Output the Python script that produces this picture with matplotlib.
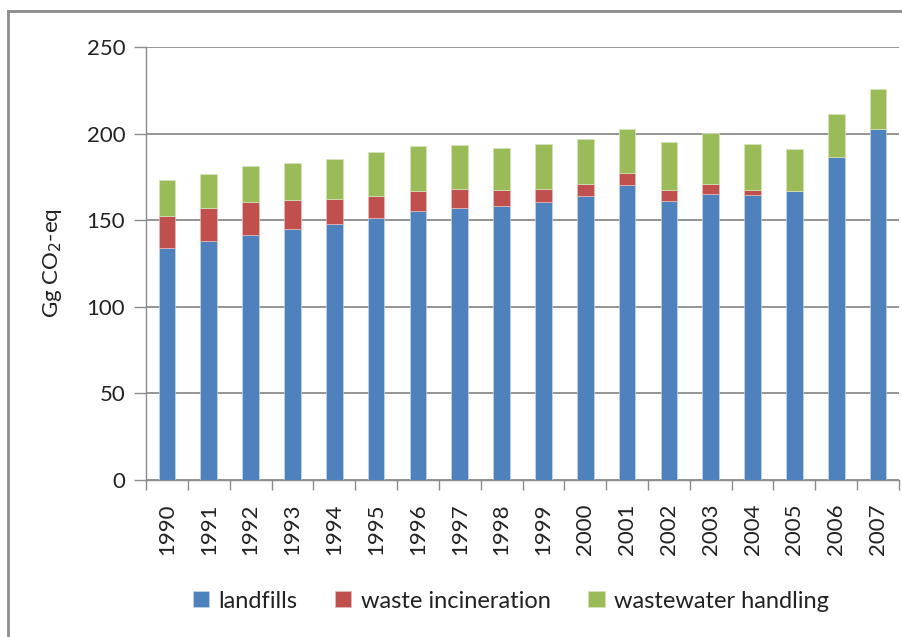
import numpy as np
import matplotlib.pyplot as plt
from matplotlib.lines import Line2D

years = [str(y) for y in range(1990, 2008)]
landfills = [134.0, 138.0, 141.5, 144.9, 147.8, 151.3, 155.6, 157.1, 158.3,
             160.6, 164.0, 170.2, 161.1, 165.4, 164.6, 166.7, 186.4, 202.4]
incineration = [18.7, 19.1, 19.1, 16.5, 14.7, 12.7, 11.1, 11.2, 9.2,
                7.7, 7.0, 7.1, 6.4, 5.6, 2.9, 0.0, 0.0, 0.0]
wastewater = [20.4, 19.5, 20.8, 21.5, 23.1, 25.1, 25.9, 25.0, 24.3,
              25.8, 25.8, 25.1, 27.4, 29.1, 26.6, 24.5, 24.7, 23.2]

plt.rcParams['font.family'] = ['Lato', 'DejaVu Sans']

W, H = 902, 637
fig = plt.figure(figsize=(W / 100, H / 100), dpi=100)
ax = fig.add_axes([146 / W, 1 - 480 / H, (899 - 146) / W, (480 - 47) / H])

x = np.arange(len(years))
lf = np.array(landfills)
inc = np.array(incineration)
ww = np.array(wastewater)
bw = 0.40
ax.bar(x, lf, bw, color='#4f81bd', label='landfills', edgecolor='#c5d5ea', linewidth=0.5, zorder=3)
ax.bar(x, inc, bw, bottom=lf, color='#c0504d', label='waste incineration', edgecolor='#e6bcbb', linewidth=0.5, zorder=3)
ax.bar(x, ww, bw, bottom=lf + inc, color='#9bbb59', label='wastewater handling', edgecolor='#d6e4bb', linewidth=0.5, zorder=3)

ax.set_xlim(-0.5, len(years) - 0.5)
ax.set_ylim(0, 250)
ax.set_yticks(range(0, 251, 50))
ax.yaxis.grid(True, color='#8c8c8c', linewidth=1.3, zorder=0)
ax.set_xticks(x)
ax.set_xticklabels(years, rotation=90, fontsize=16, color='#222222')
ax.tick_params(axis='x', length=0, pad=17)
ax.set_xticks(np.arange(-0.5, len(years)), minor=True)
ax.tick_params(axis='x', which='minor', length=7, color='#8c8c8c', width=1)
ax.tick_params(axis='y', length=9, color='#8c8c8c', width=1, labelsize=16,
               labelcolor='#222222', pad=6)

for s in ['top', 'right']:
    ax.spines[s].set_visible(False)
for s in ['left', 'bottom']:
    ax.spines[s].set_color('#8c8c8c')
    ax.spines[s].set_linewidth(1)

ax.set_ylabel('Gg CO$_2$-eq', fontsize=16, color='#222222', labelpad=16)

fig.legend(loc='center', bbox_to_anchor=(511 / W, 1 - 601 / H), ncol=3,
           frameon=False, fontsize=17, handlelength=0.68, handleheight=0.68,
           handletextpad=0.4, columnspacing=1.6, labelcolor='#222222')

# outer frame of the chart
fig.add_artist(Line2D([8 / W, 1], [1 - 11 / H, 1 - 11 / H], transform=fig.transFigure,
                      color='#8c8c8c', linewidth=2))
fig.add_artist(Line2D([8 / W, 8 / W], [0, 1 - 11 / H], transform=fig.transFigure,
                      color='#8c8c8c', linewidth=2))

fig.savefig('out.png', dpi=100)
